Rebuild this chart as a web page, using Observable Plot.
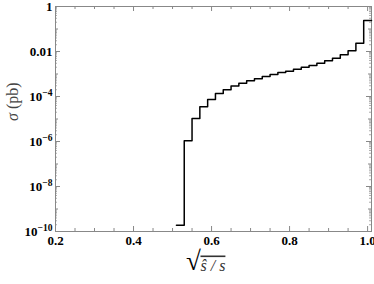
<!DOCTYPE html>
<html><head><meta charset="utf-8">
<script src="https://cdn.jsdelivr.net/npm/d3@7"></script>
<script src="https://cdn.jsdelivr.net/npm/@observablehq/plot@0.6"></script>
<style>body{margin:0;background:#fff} .tl text{font-weight:bold}</style>
</head><body><div id="chart"></div>
<script>
// bin left edges (width 0.02) and cross-section per bin (pb)
const binEdges = [0.51,0.53,0.55,0.57,0.59,0.61,0.63,0.65,0.67,0.69,0.71,0.73,0.75,0.77,0.79,0.81,0.83,0.85,0.87,0.89,0.91,0.93,0.95,0.97,0.99,1.01];
const sigma = [1.9e-10,1.07e-6,1.05e-5,3.5e-5,7.4e-5,1.35e-4,2.0e-4,2.9e-4,3.9e-4,5.0e-4,6.2e-4,7.8e-4,9.5e-4,1.17e-3,1.32e-3,1.62e-3,2.0e-3,2.4e-3,3.0e-3,3.9e-3,5.0e-3,7.1e-3,1.07e-2,2.34e-2,0.24];
const xTicks = [0.2,0.4,0.6,0.8,1.0];
const xMinor = [0.25,0.3,0.35,0.45,0.5,0.55,0.65,0.7,0.75,0.85,0.9,0.95];
const yTicks = [1,1e-2,1e-4,1e-6,1e-8,1e-10];
const yTickLabels = ["1","0.01","10^−4","10^−6","10^−8","10^−10"];
const yMid = [1e-1,1e-3,1e-5,1e-7,1e-9];
const yMinor = [];
for (let k = -10; k < 0; k++) for (let m = 2; m <= 9; m++) yMinor.push(m * Math.pow(10, k));

const pts = binEdges.map((e, i) => ({x: e, y: sigma[Math.min(i, sigma.length - 1)]}));
const H = 225, W = 316;
const tc = "#888";

const chart = Plot.plot({
  width: 374, height: 284,
  marginLeft: 55, marginRight: 3, marginTop: 6, marginBottom: 53,
  style: {fontFamily: "'Liberation Serif', serif", background: "#fff"},
  x: {domain: [0.2, 1.01]},
  y: {type: "log", domain: [1e-10, 1]},
  marks: [
    Plot.ruleX(xTicks, {stroke: tc, insetTop: H - 5}),
    Plot.ruleX(xTicks, {stroke: tc, insetBottom: H - 5}),
    Plot.ruleX(xMinor, {stroke: tc, insetTop: H - 3}),
    Plot.ruleX(xMinor, {stroke: tc, insetBottom: H - 3}),
    Plot.ruleY(yTicks, {stroke: tc, insetRight: W - 5}),
    Plot.ruleY(yTicks, {stroke: tc, insetLeft: W - 5}),
    Plot.ruleY(yMid, {stroke: tc, insetRight: W - 3}),
    Plot.ruleY(yMid, {stroke: tc, insetLeft: W - 3}),
    Plot.ruleY(yMinor, {stroke: tc, strokeWidth: 0.7, insetRight: W - 2}),
    Plot.ruleY(yMinor, {stroke: tc, strokeWidth: 0.7, insetLeft: W - 2}),
    Plot.frame({stroke: tc}),
    Plot.axisX(xTicks, {tickSize: 0, tickPadding: 4, fontSize: 13, fontWeight: "bold", fill: "#000", tickFormat: d => d.toFixed(1), label: null, className: "tl"}),
    Plot.axisY(yTicks, {tickSize: 0, tickPadding: 3, fontSize: 13, fontWeight: "bold", fill: "#000", tickFormat: d => yTickLabels[yTicks.indexOf(d)], label: null, className: "tl ya"}),
    Plot.line(pts, {x: "x", y: "y", curve: "step-after", stroke: "#000", strokeWidth: 1.5}),
    Plot.text(["σ (pb)"], {frameAnchor: "left", dx: -43, dy: 2, rotate: -90, fontSize: 16, fill: "#444", className: "ylab"}),
    Plot.text(["√"], {frameAnchor: "bottom", dx: -20, dy: 38, fontSize: 27, fill: "#000"}),
    Plot.text(["ŝ / s"], {frameAnchor: "bottom", dx: -13, dy: 39, fontSize: 16, fontStyle: "italic", textAnchor: "start", fill: "#333", className: "xlab"})
  ]
});
d3.select(chart).selectAll(".xlab text").style("text-decoration", "overline");
d3.select(chart).selectAll(".ya text").each(function() {
  const t = d3.select(this);
  const s = t.text();
  if (s.includes("^")) {
    const [base, exp] = s.split("^");
    t.text(base);
    t.append("tspan").attr("dy", "-0.45em").attr("font-size", "9.5").text(exp);
  }
});
d3.select(chart).selectAll(".ylab text").each(function() {
  const t = d3.select(this);
  const s = t.text();
  t.text("");
  t.append("tspan").attr("font-style", "italic").text(s.slice(0, 1));
  t.append("tspan").text(s.slice(1));
});
document.getElementById("chart").appendChild(chart);
</script>
</body></html>
